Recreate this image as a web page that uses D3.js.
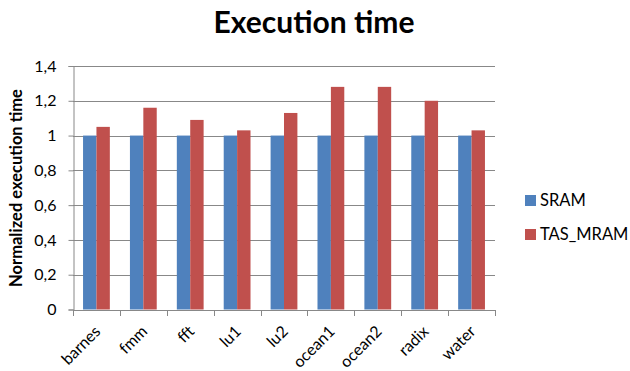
<!DOCTYPE html>
<html>
<head>
<meta charset="utf-8">
<script src="https://cdn.jsdelivr.net/npm/d3@7/dist/d3.min.js"></script>
<style>
  html, body { margin: 0; padding: 0; background: #fff; }
  svg { display: block; font-family: Lato, "Open Sans", sans-serif; }
</style>
</head>
<body>
<svg id="chart" width="630" height="371"></svg>
<script>
// Benchmarks and normalized execution times
const categories = ["barnes", "fmm", "fft", "lu1", "lu2", "ocean1", "ocean2", "radix", "water"];
const seriesNames = ["SRAM", "TAS_MRAM"];
const sramValues = [1, 1, 1, 1, 1, 1, 1, 1, 1];
const tasMramValues = [1.05, 1.16, 1.09, 1.03, 1.13, 1.28, 1.28, 1.2, 1.03];
const yTicks = [0, 0.2, 0.4, 0.6, 0.8, 1, 1.2, 1.4];
const colors = ["#4F81BD", "#C0504D"];

const svg = d3.select("#chart");
const plot = { left: 73, right: 495, top: 66, bottom: 309.5 };

const x = d3.scaleBand().domain(categories).range([plot.left, plot.right]).paddingInner(0).paddingOuter(0);
const inner = d3.scaleBand().domain(seriesNames).range([0, x.bandwidth()]).paddingInner(0).paddingOuter(0.75);
const y = d3.scaleLinear().domain([0, 1.4]).range([plot.bottom, plot.top]);

const fmt = v => String(+v.toFixed(1)).replace(".", ",");

// Horizontal gridlines
svg.append("g")
  .selectAll("line")
  .data(yTicks.filter(t => t > 0))
  .join("line")
  .attr("x1", plot.left).attr("x2", plot.right)
  .attr("y1", d => Math.round(y(d)) + 0.5).attr("y2", d => Math.round(y(d)) + 0.5)
  .attr("stroke", "#888").attr("stroke-width", 1);

// Bars
const rows = categories.map((c, i) => ({ c, vals: [sramValues[i], tasMramValues[i]] }));
const groups = svg.append("g").selectAll("g")
  .data(rows).join("g")
  .attr("transform", d => `translate(${x(d.c)},0)`);
groups.selectAll("rect")
  .data(d => d.vals.map((v, k) => ({ k, v })))
  .join("rect")
  .attr("x", d => inner(seriesNames[d.k]))
  .attr("width", inner.bandwidth())
  .attr("y", d => y(d.v))
  .attr("height", d => y(0) - y(d.v))
  .attr("fill", d => colors[d.k]);

// Y axis
const yAxis = svg.append("g")
  .attr("transform", `translate(${plot.left + 0.5},0)`)
  .call(d3.axisLeft(y).tickValues(yTicks).tickFormat(fmt).tickSize(5).tickPadding(12));
yAxis.select(".domain").attr("stroke", "#888");
yAxis.selectAll(".tick line").attr("stroke", "#888");
yAxis.selectAll(".tick text").attr("font-size", "16px").attr("fill", "#000")
  .attr("font-family", "Lato, 'Open Sans', sans-serif");

// X axis baseline with ticks at category boundaries
const xg = svg.append("g");
xg.append("line")
  .attr("x1", plot.left).attr("x2", plot.right)
  .attr("y1", Math.round(y(0)) + 0.5).attr("y2", Math.round(y(0)) + 0.5)
  .attr("stroke", "#888");
const bounds = categories.map(c => x(c)).concat([x(categories[categories.length - 1]) + x.bandwidth()]);
xg.selectAll("line.tk").data(bounds).join("line").attr("class", "tk")
  .attr("x1", d => Math.round(d) + 0.5).attr("x2", d => Math.round(d) + 0.5)
  .attr("y1", Math.round(y(0))).attr("y2", Math.round(y(0)) + 6)
  .attr("stroke", "#888");
xg.selectAll("text").data(categories).join("text")
  .attr("transform", d => `translate(${x(d) + x.bandwidth() / 2 + 5},${y(0) + 23}) rotate(-45)`)
  .attr("text-anchor", "end")
  .attr("font-size", "16px")
  .attr("fill", "#000")
  .text(d => d);

// Title
svg.append("text")
  .attr("x", 314).attr("y", 33)
  .attr("text-anchor", "middle")
  .attr("font-size", "30px").attr("font-weight", "bold")
  .attr("fill", "#000")
  .text("Execution time");

// Y axis title
svg.append("text")
  .attr("transform", `translate(22,188) rotate(-90)`)
  .attr("text-anchor", "middle")
  .attr("font-size", "16.5px").attr("font-weight", "bold")
  .attr("fill", "#000")
  .text("Normalized execution time");

// Legend
const legend = svg.append("g").selectAll("g")
  .data(seriesNames).join("g")
  .attr("transform", (d, i) => `translate(525,${195 + i * 34})`);
legend.append("rect").attr("width", 11).attr("height", 11).attr("fill", (d, i) => colors[i]);
legend.append("text").attr("x", 15).attr("y", 11)
  .attr("font-size", "16.5px").attr("fill", "#000")
  .text(d => d);
</script>
</body>
</html>
